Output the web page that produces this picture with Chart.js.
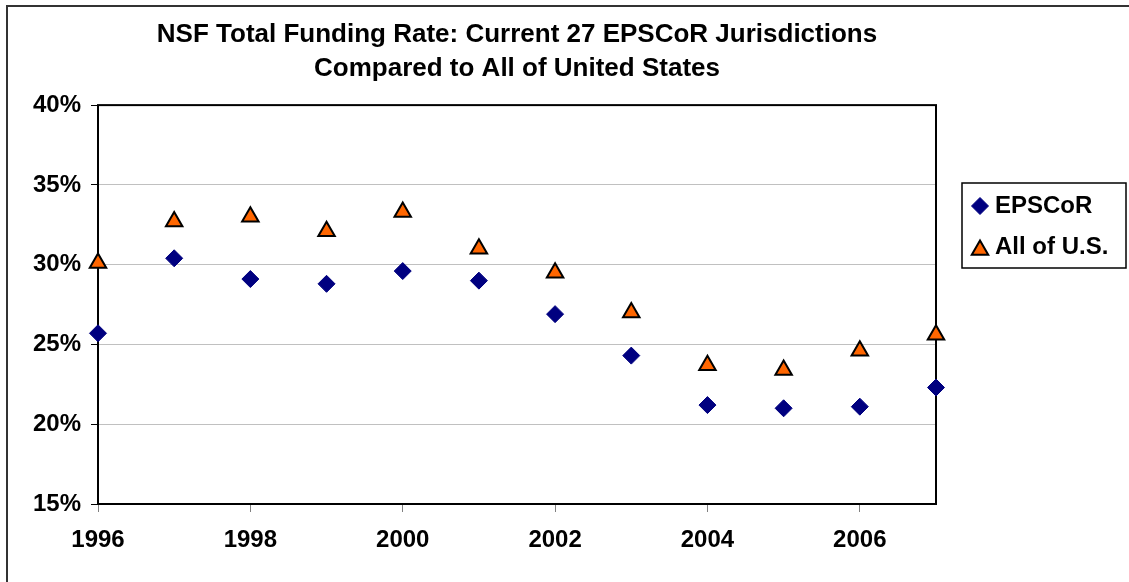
<!DOCTYPE html>
<html>
<head>
<meta charset="utf-8">
<script src="https://cdn.jsdelivr.net/npm/chart.js@4.4.1/dist/chart.umd.min.js"></script>
<style>
    html, body { margin: 0; padding: 0; background: #fff; }
    canvas { display: block; }
</style>
</head>
<body>
<canvas id="fundingChart" width="1129" height="582"></canvas>
<script>
// values (percent)
const years = [1996, 1997, 1998, 1999, 2000, 2001, 2002, 2003, 2004, 2005, 2006, 2007];
const epscorRate = [25.7, 30.4, 29.1, 28.8, 29.6, 29.0, 26.9, 24.3, 21.2, 21.0, 21.1, 22.3];
const allUsRate = [30.1, 32.7, 33.0, 32.1, 33.3, 31.0, 29.5, 27.0, 23.7, 23.4, 24.6, 25.6];
const seriesNames = ['EPSCoR', 'All of U.S.'];
const titleLines = ['NSF Total Funding Rate: Current 27 EPSCoR Jurisdictions', 'Compared to All of United States'];

const FONT = "'Liberation Sans', Arial, sans-serif";
Chart.defaults.font.family = FONT;
Chart.defaults.font.weight = 'bold';
Chart.defaults.color = '#000';

function toPoints(values) {
    return years.map((x, i) => ({ x: x, y: values[i] }));
}

// outer frame, plot border and the boxed legend on the right
const framePlugin = {
    id: 'frame',
    beforeDraw(chart) {
        const ctx = chart.ctx;
        ctx.save();
        ctx.fillStyle = '#fff';
        ctx.fillRect(0, 0, chart.width, chart.height);
        ctx.strokeStyle = '#333';
        ctx.lineWidth = 2;
        ctx.strokeRect(7, 6, chart.width, chart.height);
        ctx.restore();
    },
    beforeDatasetsDraw(chart) {
        const ctx = chart.ctx;
        const a = chart.chartArea;
        ctx.save();
        ctx.strokeStyle = '#000';
        ctx.lineWidth = 2;
        ctx.strokeRect(a.left, a.top, a.right - a.left, a.bottom - a.top);
        ctx.restore();
    },
    afterDraw(chart) {
        const ctx = chart.ctx;
        ctx.save();
        ctx.strokeStyle = '#000';
        ctx.lineWidth = 1.5;
        ctx.strokeRect(962, 183, 164, 85);

        const rows = [206, 247];
        chart.data.datasets.forEach((ds, i) => {
            ctx.fillStyle = ds.backgroundColor;
            ctx.strokeStyle = ds.borderColor;
            ctx.lineWidth = ds.borderWidth;
            // triangle centroid sits below its box centre
            const markerY = ds.pointStyle === 'triangle' ? rows[i] + 3 : rows[i];
            Chart.helpers.drawPoint(ctx, {
                pointStyle: ds.pointStyle,
                radius: ds.pointRadius,
                rotation: 0,
                borderWidth: ds.borderWidth
            }, 980, markerY);
            ctx.fillStyle = '#000';
            ctx.font = 'bold 24px ' + FONT;
            ctx.textBaseline = 'middle';
            ctx.textAlign = 'left';
            ctx.fillText(ds.label, 995, rows[i]);
        });
        ctx.restore();
    }
};

new Chart(document.getElementById('fundingChart'), {
    type: 'scatter',
    data: {
        datasets: [{
            label: seriesNames[0],
            data: toPoints(epscorRate),
            pointStyle: 'rectRot',
            pointRadius: 8.5,
            backgroundColor: '#000080',
            borderColor: '#000080',
            borderWidth: 1,
            clip: false
        }, {
            label: seriesNames[1],
            data: toPoints(allUsRate),
            pointStyle: 'triangle',
            pointRadius: 9.5,
            backgroundColor: '#FF6600',
            borderColor: '#000',
            borderWidth: 2,
            clip: false
        }]
    },
    options: {
        responsive: false,
        animation: false,
        layout: { padding: { left: 0, right: 193, top: 0, bottom: 0 } },
        plugins: {
            legend: { display: false },
            tooltip: { enabled: false },
            title: {
                display: true,
                text: titleLines,
                fullSize: false,
                color: '#000',
                font: { size: 26, weight: 'bold', lineHeight: 1.31 },
                padding: { top: 18, bottom: 19 }
            }
        },
        scales: {
            x: {
                type: 'linear',
                min: 1996,
                max: 2007,
                afterFit(scale) { scale.height = 78; },
                border: { display: false },
                grid: {
                    drawOnChartArea: false,
                    drawTicks: true,
                    tickLength: 8,
                    tickColor: '#808080'
                },
                ticks: {
                    stepSize: 2,
                    includeBounds: false,
                    padding: 14,
                    font: { size: 24, weight: 'bold' },
                    color: '#000',
                    callback: (v) => String(v)
                }
            },
            y: {
                min: 15,
                max: 40,
                afterFit(scale) { scale.width = 98; },
                border: { display: false },
                grid: {
                    color: '#c0c0c0',
                    lineWidth: 1,
                    drawTicks: true,
                    tickLength: 7,
                    tickColor: '#000'
                },
                ticks: {
                    stepSize: 5,
                    padding: 10,
                    font: { size: 24, weight: 'bold' },
                    color: '#000',
                    callback: (v) => v + '%'
                }
            }
        }
    },
    plugins: [framePlugin]
});
</script>
</body>
</html>
